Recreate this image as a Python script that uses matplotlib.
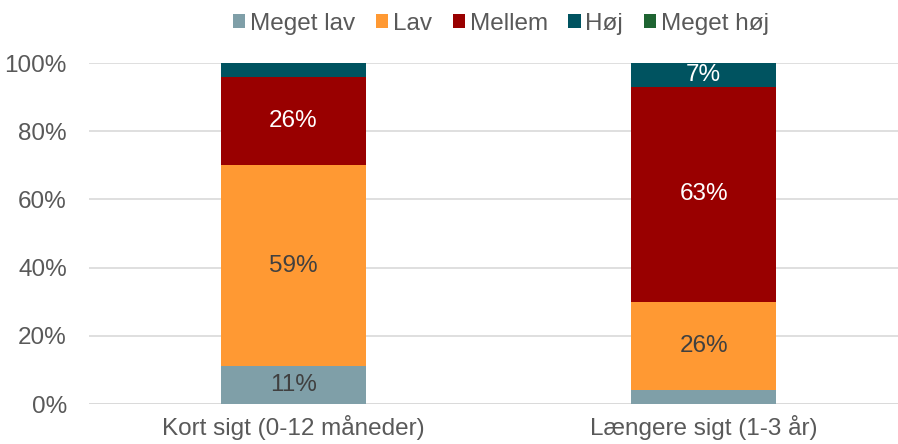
import matplotlib
matplotlib.use("Agg")
import matplotlib.pyplot as plt
import numpy as np

plt.rcParams['font.family'] = ['Liberation Sans', 'DejaVu Sans']

categories = ["Kort sigt (0-12 måneder)", "Længere sigt (1-3 år)"]
series_names = ["Meget lav", "Lav", "Mellem", "Høj", "Meget høj"]
meget_lav = [11, 4]
lav = [59, 26]
mellem = [26, 63]
hoj = [4, 7]
meget_hoj = [0, 0]
series_values = [meget_lav, lav, mellem, hoj, meget_hoj]
colors = ["#7F9FA8", "#FF9933", "#990000", "#005360", "#1E6432"]
label_colors = ["#404040", "#404040", "white", "white", "white"]
yticks = [0, 20, 40, 60, 80, 100]
ytick_labels = ["0%", "20%", "40%", "60%", "80%", "100%"]

FS = 17.5

fig = plt.figure(figsize=(8.98, 4.44), dpi=100)
ax = fig.add_axes([89/898, 1-404/444, 1-89/898, (404-63)/444])

x = np.arange(len(categories))
bottom = np.zeros(len(categories))
handles = []
for name, vals, c, lc in zip(series_names, series_values, colors, label_colors):
    vals = np.array(vals, dtype=float)
    b = ax.bar(x, vals, width=0.354, bottom=bottom, color=c, label=name, zorder=3)
    handles.append(b)
    for xi, v, bt in zip(x, vals, bottom):
        if v >= 5:
            ax.text(xi, bt + v/2, f"{v:.0f}%", ha="center", va="center",
                    color=lc, fontsize=FS, zorder=4)
    bottom += vals

ax.set_ylim(0, 100)
ax.set_xlim(-0.4988, 1.474)
ax.set_yticks(yticks)
ax.set_yticklabels(ytick_labels)
ax.set_xticks(x)
ax.set_xticklabels(categories)
ax.tick_params(axis='y', length=0, labelsize=FS, labelcolor="#595959", pad=16)
ax.tick_params(axis='x', length=0, labelsize=FS, labelcolor="#595959", pad=8)
ax.yaxis.grid(True, color="#D9D9D9", linewidth=1.2, zorder=0)
for s in ax.spines.values():
    s.set_visible(False)
ax.axhline(0, color="#D9D9D9", linewidth=1.2, zorder=2)

leg = fig.legend(handles=handles, labels=series_names, loc="center",
                 bbox_to_anchor=(501/898, 1-24/444), ncol=5, frameon=False,
                 fontsize=FS, handlelength=0.5, handleheight=0.5,
                 handletextpad=0.2, columnspacing=0.85, borderaxespad=0)
for t in leg.get_texts():
    t.set_color("#595959")

fig.savefig("out.png", dpi=100)
